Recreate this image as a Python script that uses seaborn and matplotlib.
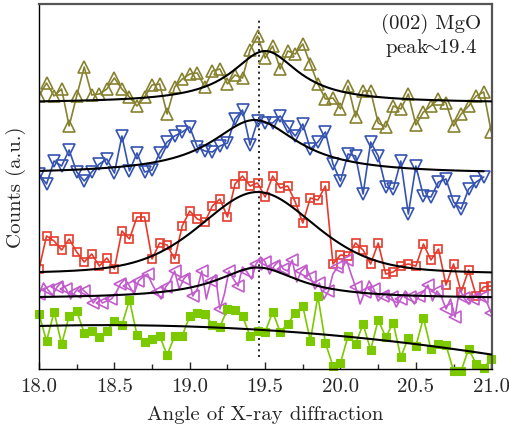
import numpy as np
import matplotlib
matplotlib.use("Agg")
import matplotlib.pyplot as plt
import seaborn as sns
from matplotlib.ticker import MultipleLocator, FormatStrFormatter

sns.set_style("ticks")
plt.rcParams["font.family"] = "serif"
plt.rcParams["font.serif"] = ["cmr10"]
plt.rcParams["mathtext.fontset"] = "cm"
plt.rcParams["axes.unicode_minus"] = False

# ---------------- data (counts, arbitrary units) ----------------
two_theta = np.round(18.0 + 0.05 * np.arange(61), 2)
two_theta_blue = two_theta[:60]
two_theta_mag = np.round(18.0 + 0.03 * np.arange(101), 2)

olive_counts = [278, 291, 278, 285, 248, 278, 307, 279, 280, 285,
                296, 285, 277, 268, 277, 289, 290, 260, 287, 295,
                300, 301, 287, 303, 305, 290, 299, 296, 324, 338,
                316, 328, 305, 323, 320, 330, 310, 290, 275, 276,
                265, 288, 257, 283, 283, 251, 247, 268, 265, 280,
                249, 262, 268, 275, 271, 248, 260, 268, 278, 282,
                242]

blue_counts = [200, 190, 213, 208, 224, 202, 193, 202, 210, 215,
               201, 238, 203, 221, 202, 204, 221, 232, 238, 242,
               247, 227, 223, 222, 228, 231, 255, 264, 229, 253,
               251, 251, 258, 247, 238, 250, 225, 232, 242, 210,
               193, 220, 218, 180, 232, 218, 187, 185, 213, 160,
               208, 178, 177, 192, 195, 172, 165, 185, 192, 197]

red_counts = [105, 138, 133, 124, 135, 122, 112, 120, 108, 116,
              105, 143, 135, 157, 157, 115, 131, 129, 115, 148,
              163, 155, 152, 168, 175, 157, 190, 198, 188, 191,
              177, 198, 186, 188, 172, 151, 176, 174, 188, 110,
              119, 118, 131, 124, 110, 131, 100, 102, 108, 110,
              108, 130, 114, 125, 89, 110, 82, 104, 78, 87,
              88]

magenta_counts = [80, 91, 84, 79, 87, 92, 85, 75, 82, 87,
                  83, 79, 71, 77, 71, 73, 75, 81, 90, 95,
                  88, 80, 93, 97, 100, 90, 82, 75, 87, 93,
                  103, 85, 95, 100, 78, 85, 103, 75, 93, 99,
                  65, 80, 103, 95, 88, 107, 102, 95, 110, 117,
                  112, 100, 108, 113, 105, 103, 114, 92, 103, 107,
                  97, 85, 91, 75, 83, 100, 107, 105, 114, 100,
                  87, 70, 82, 93, 85, 73, 78, 82, 77, 67,
                  75, 83, 77, 70, 78, 82, 89, 73, 83, 77,
                  65, 75, 57, 85, 76, 70, 75, 82, 77, 72,
                  61]

green_counts = [60, 33, 62, 30, 58, 63, 41, 43, 37, 43,
                53, 49, 74, 39, 32, 35, 38, 19, 38, 38,
                58, 61, 60, 49, 47, 65, 64, 58, 38, 43,
                42, 62, 42, 50, 61, 68, 33, 78, 31, 8,
                11, 38, 30, 50, 24, 54, 37, 51, 17, 36,
                28, 56, 25, 30, 29, 3, 3, 25, 10, 6,
                15]

# fitted peak parameters: center, fwhm, amplitude, baseline, lorentz fraction
olive_fit = [19.50, 0.54, 52, 271, 1.0]
blue_fit = [19.43, 0.70, 54, 200, 1.0]
red_fit = [19.45, 0.90, 83, 99, 0.4]
magenta_fit = [19.45, 0.66, 31, 75.5, 1.0]
green_fit = [48.0, 4.0, -4.5]   # polynomial background in (2theta - 18)

peak_pos = 19.46
label_lines = ["(002) MgO", r"peak$\!\!{\sim}\!\!$19.4"]

colors = {"olive": "#878230", "blue": "#3553b0", "red": "#e63b2c",
          "magenta": "#c25ccc", "green": "#7dc900"}


def pvoigt(x, c, fwhm, amp, base, eta):
    u = (x - c) / fwhm
    lor = 1.0 / (1.0 + 4.0 * u ** 2)
    gau = np.exp(-4.0 * np.log(2) * u ** 2)
    return base + amp * (eta * lor + (1 - eta) * gau)


fig = plt.figure(figsize=(5.1, 4.27), dpi=100)
ax = fig.add_axes([39 / 510, 57 / 427, 453 / 510, 365 / 427])

common = dict(ax=ax, sort=False, estimator=None, linewidth=1.2, zorder=2)

sns.lineplot(x=two_theta, y=olive_counts, color=colors["olive"], marker="^",
             markersize=8, markerfacecolor="none",
             markeredgecolor=colors["olive"], markeredgewidth=1.2, **common)
sns.lineplot(x=two_theta_blue, y=blue_counts, color=colors["blue"], marker="v",
             markersize=8, markerfacecolor="none",
             markeredgecolor=colors["blue"], markeredgewidth=1.2, **common)
sns.lineplot(x=two_theta, y=red_counts, color=colors["red"], marker="s",
             markersize=5.6, markerfacecolor="none",
             markeredgecolor=colors["red"], markeredgewidth=1.2, **common)
sns.lineplot(x=two_theta_mag, y=magenta_counts, color=colors["magenta"],
             marker="<", markersize=8, markerfacecolor="none",
             markeredgecolor=colors["magenta"], markeredgewidth=1.2,
             markevery=2, **common)
sns.lineplot(x=two_theta, y=green_counts, color=colors["green"], marker="s",
             markersize=6.2, markerfacecolor=colors["green"],
             markeredgecolor=colors["green"], markeredgewidth=0.8,
             clip_on=False, **common)

# fitted curves
xf = np.linspace(18.0, 21.0, 400)
xf_blue = np.linspace(18.0, 20.95, 400)
fit_kw = dict(ax=ax, color="black", linewidth=1.5, sort=False,
              estimator=None, zorder=3)
sns.lineplot(x=xf, y=pvoigt(xf, *olive_fit), **fit_kw)
sns.lineplot(x=xf_blue, y=pvoigt(xf_blue, *blue_fit), **fit_kw)
sns.lineplot(x=xf, y=pvoigt(xf, *red_fit), **fit_kw)
sns.lineplot(x=xf, y=pvoigt(xf, *magenta_fit), **fit_kw)
sns.lineplot(x=xf, y=np.polyval(green_fit[::-1], xf - 18.0), **fit_kw)

ax.axvline(peak_pos, ymin=0.033, ymax=0.956, color="black",
           linestyle=(0, (1.2, 2.2)), linewidth=1.2, zorder=1)

ax.text(0.865, 0.975, "\n".join(label_lines), transform=ax.transAxes,
        ha="center", va="top", fontsize=15, color="#222222")

ax.set_xlim(18.0, 21.005)
ax.set_ylim(5, 370)
ax.xaxis.set_major_locator(MultipleLocator(0.5))
ax.xaxis.set_minor_locator(MultipleLocator(0.25))
ax.xaxis.set_major_formatter(FormatStrFormatter("%.1f"))
ax.tick_params(axis="x", which="major", direction="in", length=5, width=1,
               labelsize=15, pad=6, top=False)
ax.tick_params(axis="x", which="minor", direction="in", length=3.5, width=1,
               top=False)
ax.tick_params(axis="y", which="both", left=False, labelleft=False)

ax.set_xlabel("Angle of X-ray diffraction", fontsize=15, labelpad=7)
ax.set_ylabel("Counts (a.u.)", fontsize=15)
ax.yaxis.set_label_coords(-0.028, 0.5)

for side in ["left", "bottom"]:
    ax.spines[side].set_color("black")
    ax.spines[side].set_linewidth(1.0)
for side in ["top", "right"]:
    ax.spines[side].set_color("#555555")
    ax.spines[side].set_linewidth(1.6)

fig.savefig("out.png", dpi=100)
